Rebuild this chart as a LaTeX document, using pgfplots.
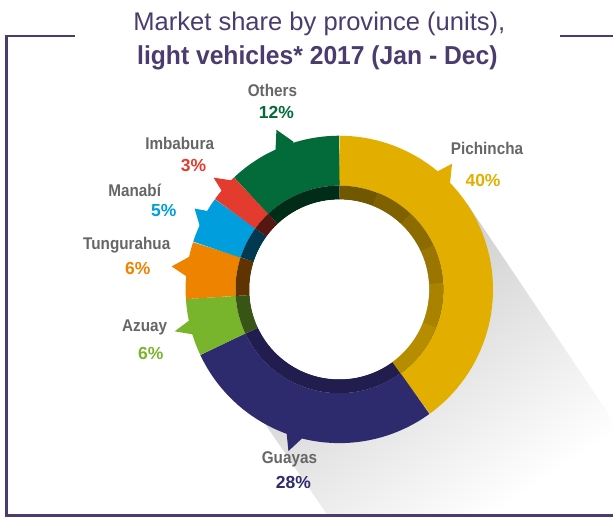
\documentclass[border=0pt]{standalone}
\usepackage{fontspec}
\setmainfont{Liberation Sans}
\usepackage{pgfplots}
\pgfplotsset{compat=1.18}
\definecolor{cPich}{HTML}{E2AE00}
\definecolor{cGuay}{HTML}{2E2A6E}
\definecolor{cAzua}{HTML}{79B52C}
\definecolor{cTung}{HTML}{EE8300}
\definecolor{cMana}{HTML}{009EDD}
\definecolor{cImba}{HTML}{E33B2E}
\definecolor{cOthe}{HTML}{036A39}
\definecolor{cName}{HTML}{666666}
\definecolor{cFrame}{HTML}{4A3C6E}

% ring segment: start %, end %, mid radius, thickness, colour
\newcommand{\seg}[5]{%
  \addplot[draw=#5,line width=#4pt,line cap=butt,line join=round,
    domain=90-3.6*#2:90-3.6*#1,samples=90]
    ({340+#3*cos(x)},{290-#3*sin(x)});}
\newcommand{\lbl}[6]{% x, name baseline, name, pct x, pct baseline, pct/colour
  \node[anchor=base,font=\fontsize{17}{20}\selectfont\bfseries,text=cName,inner sep=0pt]
    at (axis cs:#1,#2) {\scalebox{0.9}[1]{#3}};
  \node[anchor=base,font=\fontsize{17.5}{20}\selectfont\bfseries,inner sep=0pt]
    at (axis cs:#4,#5) {#6};}

\begin{document}
\begin{tikzpicture}
\begin{axis}[
  scale only axis,width=614pt,height=519pt,
  xmin=0,xmax=614,ymin=0,ymax=519,y dir=reverse,
  hide axis,clip=false,
]
\addplot[draw=none] coordinates {(0,0) (614,519)};

% long shadow behind the ring
\addplot[draw=none,shading=axis,top color=black!24,bottom color=white,shading angle=34]
  coordinates {(340,290) (468,204) (614,421) (614,516) (328,516) (235,380)} -- cycle;

% pointer tabs
\addplot[fill=cOthe,draw=none] coordinates {(277,130) (276,152) (294,146) (294,142)} -- cycle;
\addplot[fill=cImba,draw=none] coordinates {(214,178) (234,181) (226,194) (222,191)} -- cycle;
\addplot[fill=cMana,draw=none] coordinates {(195,209) (211,212) (203,228) (200,226)} -- cycle;
\addplot[fill=cTung,draw=none] coordinates {(172,267) (192,256) (189,278) (187,277)} -- cycle;
\addplot[fill=cAzua,draw=none] coordinates {(175,332) (191,320) (195,336) (193,335)} -- cycle;
\addplot[fill=cPich,draw=none] coordinates {(453,164) (436,173) (449,186) (451,183)} -- cycle;
\addplot[fill=cGuay,draw=none] coordinates {(289,452) (287,432) (303,437) (303,439)} -- cycle;

% outer ring: Pichincha 40, Guayas 28, Azuay 6, Tungurahua 6, Manabi 5, Imbabura 3, Others 12
\seg{0}{40}{129}{50}{cPich}
\seg{40}{68}{129}{50}{cGuay}
\seg{68}{74}{129}{50}{cAzua}
\seg{74}{80}{129}{50}{cTung}
\seg{80}{85}{129}{50}{cMana}
\seg{85}{88}{129}{50}{cImba}
\seg{88}{100}{129}{50}{cOthe}

% inner shaded band
\seg{0}{40}{97}{14}{cPich!50!black}
\seg{6}{40}{97}{14}{cPich!56!black}
\seg{12}{40}{97}{14}{cPich!62!black}
\seg{18}{40}{97}{14}{cPich!68!black}
\seg{24}{40}{97}{14}{cPich!75!black}
\seg{31}{40}{97}{14}{cPich!81!black}
\seg{40}{68}{97}{14}{cGuay!72!black}
\seg{68}{74}{97}{14}{cAzua!47!black}
\seg{74}{80}{97}{14}{cTung!40!black}
\seg{80}{85}{97}{14}{cMana!36!black}
\seg{85}{88}{97}{14}{cImba!38!black}
\seg{88}{100}{97}{14}{cOthe!42!black}

% hole
\addplot[fill=white,draw=none,domain=0:360,samples=120]
  ({340+90*cos(x)},{290-90*sin(x)});

% labels
\lbl{488}{155}{Pichincha}{484}{187}{\textcolor{cPich}{40\%}}
\lbl{290}{464}{Guayas}{294}{489}{\textcolor{cGuay}{28\%}}
\lbl{145}{332}{Azuay}{151}{360}{\textcolor{cAzua}{6\%}}
\lbl{127}{250}{Tungurahua}{138}{275}{\textcolor{cTung}{6\%}}
\lbl{135}{197}{Manabí}{164}{217}{\textcolor{cMana}{5\%}}
\lbl{180}{150}{Imbabura}{194}{172}{\textcolor{cImba}{3\%}}
\lbl{273}{97}{Others}{277}{119}{\textcolor{cOthe}{12\%}}

% title
\node[anchor=base,text=cFrame,font=\fontsize{25.6}{30}\selectfont,inner sep=0pt]
  at (axis cs:320,31) {Market share by province (units),};
\node[anchor=base,text=cFrame,font=\fontsize{26}{30}\selectfont\bfseries,inner sep=0pt]
  at (axis cs:318,65) {\scalebox{0.95}[1]{light vehicles* 2017 (Jan - Dec)}};

% frame
\addplot[cFrame,line width=2.5pt] coordinates {(75,36) (6.5,36) (6.5,516.5) (614,516.5)};
\addplot[cFrame,line width=2.5pt] coordinates {(561,36) (614,36)};
\end{axis}
\end{tikzpicture}
\end{document}
